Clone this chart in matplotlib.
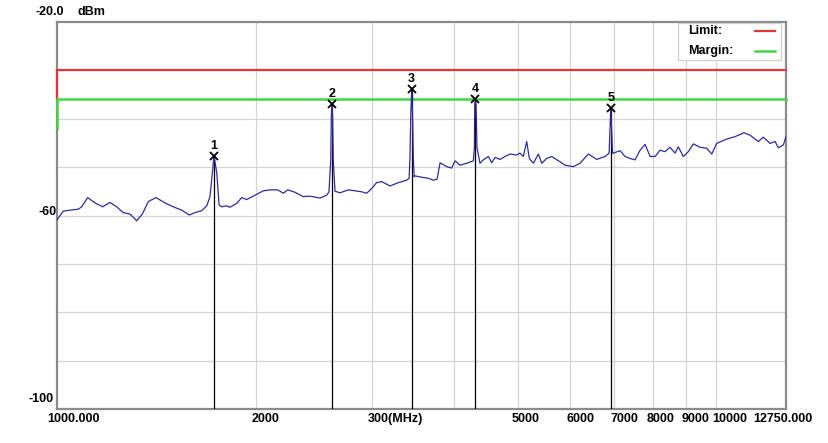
import matplotlib
matplotlib.use("Agg")
import matplotlib.pyplot as plt
from matplotlib.patches import Rectangle

# ---------------- data ----------------
freq_mhz = [1000, 1022, 1046, 1077, 1090, 1113, 1142, 1173, 1203, 1232, 1260, 1290,
            1321, 1347, 1376, 1413, 1458, 1501, 1546, 1587, 1619, 1658, 1687, 1706,
            1720, 1730, 1747, 1761, 1777, 1808, 1829, 1873, 1906, 1940, 1997, 2055,
            2104, 2161, 2204, 2238, 2296, 2363, 2419, 2505, 2564, 2585, 2601, 2606,
            2612, 2618, 2624, 2640, 2687, 2766, 2831, 2898, 2949, 3001, 3053, 3108,
            3199, 3293, 3391, 3420, 3430, 3440, 3451, 3460, 3470, 3480, 3491, 3573,
            3657, 3722, 3770, 3810, 3900, 3968, 4014, 4085, 4181, 4279, 4295, 4300,
            4309, 4320, 4334, 4380, 4431, 4510, 4563, 4616, 4698, 4781, 4864, 4978,
            5036, 5095, 5156, 5203, 5277, 5370, 5434, 5529, 5626, 5792, 5894, 6067,
            6211, 6394, 6585, 6780, 6875, 6900, 6915, 6930, 6958, 6979, 7143, 7268,
            7396, 7527, 7660, 7795, 7933, 8073, 8215, 8357, 8504, 8654, 8754, 8909,
            9066, 9226, 9444, 9667, 9838, 10011, 10366, 10671, 11011, 11246, 11575,
            11780, 12059, 12272, 12414, 12633, 12750]
level_dbm = [-60.9, -59.1, -58.9, -58.7, -58.2, -56.3, -57.4, -58.2, -57.3, -58.2, -59.4, -59.7,
             -61.1, -59.7, -57.1, -56.3, -57.4, -58.2, -58.9, -59.9, -59.4, -59.0, -58.0, -56.1,
             -51.3, -47.6, -51.2, -57.8, -58.2, -58.0, -58.3, -57.5, -56.3, -56.7, -55.8, -54.9,
             -54.7, -54.7, -55.4, -54.7, -55.2, -56.1, -56.0, -56.4, -55.8, -55.1, -48.5, -39.8,
             -36.9, -39.8, -48.5, -55.0, -55.3, -54.7, -54.9, -55.1, -55.4, -54.4, -53.2, -53.0,
             -53.9, -53.2, -52.7, -52.3, -48.0, -38.8, -33.9, -38.8, -48.0, -52.0, -51.8, -52.1,
             -52.3, -52.7, -52.5, -49.1, -49.9, -50.2, -48.7, -49.6, -49.2, -48.7, -46.0, -37.0,
             -36.0, -37.0, -46.0, -49.2, -48.5, -47.8, -49.1, -48.0, -48.4, -47.8, -47.3, -47.5,
             -47.1, -47.8, -44.7, -48.2, -49.2, -47.3, -49.2, -48.2, -47.8, -48.9, -49.6, -49.9,
             -49.2, -47.3, -48.4, -47.8, -47.1, -41.0, -37.8, -41.0, -47.1, -47.1, -46.6, -47.8,
             -48.2, -48.5, -46.5, -45.3, -47.8, -47.8, -46.5, -46.8, -45.9, -47.1, -45.8, -47.8,
             -46.8, -45.2, -45.9, -46.1, -47.3, -45.1, -44.2, -43.7, -42.9, -43.4, -44.7,
             -43.8, -45.1, -44.7, -46.0, -45.4, -43.7]

marker_ids = ["1", "2", "3", "4", "5"]
marker_freq = [1730, 2612, 3451, 4309, 6915]
marker_level = [-47.6, -36.9, -33.9, -36.0, -37.8]

limit_dbm = -30.0
margin_dbm = -36.0
limit_start_dbm = -36.0
margin_start_dbm = -42.0

f_start, f_stop = 1000, 12750
y_min, y_max = -100, -20

x_grid = [2000, 3000, 4000, 5000, 6000, 7000, 8000, 9000, 10000]
y_grid = [-90, -80, -70, -60, -50, -40, -30]

x_tick_vals = [1000, 2000, 3000, 5000, 6000, 7000, 8000, 9000, 10000, 12750]
x_tick_text = ["1000.000", "2000", "300(MHz)", "5000", "6000", "7000", "8000", "9000",
               "10000", "12750.000"]
x_tick_dx = [-10, -3.5, -3.5, -6, -4, -4, -5.5, -5, -4, -33]

# ---------------- figure ----------------
W, H = 829, 443
fig = plt.figure(figsize=(W / 100, H / 100), dpi=100)
fig.patch.set_facecolor("white")

def fx(px):
    return px / W

def fy(py):
    return 1 - py / H

L, R, T, B = 57, 786, 22, 409
ax = fig.add_axes([fx(L), fy(B), (R - L) / W, (B - T) / H])
ax.set_xscale("log")
ax.set_xlim(f_start, f_stop)
ax.set_ylim(y_min, y_max)
ax.minorticks_off()
ax.set_xticks(x_grid)
ax.set_yticks(y_grid)
ax.tick_params(length=0, labelbottom=False, labelleft=False)
ax.grid(True, color="#d4d4d4", linewidth=0.9)
ax.set_axisbelow(True)
for s in ax.spines.values():
    s.set_color("#8a8a8a")
    s.set_linewidth(1.6)

font = dict(family=["Liberation Sans", "DejaVu Sans"], fontweight="bold", fontsize=9, color="black")

# limit / margin lines
ax.plot([f_start, f_start, f_stop], [limit_start_dbm, limit_dbm, limit_dbm],
        color="#e03838", lw=1.6, zorder=3, clip_on=False, solid_joinstyle="miter")
ax.plot([f_start, f_start, f_stop], [margin_start_dbm, margin_dbm, margin_dbm],
        color="#44d444", lw=1.8, zorder=3, clip_on=False, solid_joinstyle="miter")

# marker vertical lines
ax.vlines(marker_freq, y_min, marker_level, color="black", lw=0.9, zorder=3.5)

# trace
ax.plot(freq_mhz, level_dbm, color="#2c2c9c", lw=0.9, zorder=4)

# markers
ax.plot(marker_freq, marker_level, linestyle="none", marker="x", color="black",
        markersize=6, mew=1.3, zorder=5)
for mid, mf, ml in zip(marker_ids, marker_freq, marker_level):
    ax.annotate(mid, xy=(mf, ml), xytext=(0, 10), textcoords="offset pixels",
                ha="center", va="center", zorder=6, **font)

# x tick labels
for v, t, dx in zip(x_tick_vals, x_tick_text, x_tick_dx):
    ax.annotate(t, xy=(v, 0), xycoords=("data", "axes fraction"), xytext=(dx, -10),
                textcoords="offset pixels", ha="left", va="center", annotation_clip=False, **font)

# y labels
ax.annotate("-60", xy=(0, -60), xycoords=("axes fraction", "data"), xytext=(0, 3.5),
            textcoords="offset pixels", ha="right", va="center", annotation_clip=False, **font)
ax.annotate("-100", xy=(0, -100), xycoords=("axes fraction", "data"), xytext=(-3, 10),
            textcoords="offset pixels", ha="right", va="center", annotation_clip=False, **font)
fig.text(fx(36), fy(12), "-20.0", ha="left", va="center", **font)
fig.text(fx(78), fy(12), "dBm", ha="left", va="center", **font)

# legend box
fig.patches.append(Rectangle((fx(678), fy(60)), (781 - 678) / W, (60 - 23) / H,
                             transform=fig.transFigure, facecolor="white",
                             edgecolor="#cfcfcf", linewidth=0.9, zorder=10))
fig.text(fx(688), fy(31.5), "Limit:", ha="left", va="center", zorder=11, **font)
fig.text(fx(688), fy(51), "Margin:", ha="left", va="center", zorder=11, **font)
fig.lines.append(plt.Line2D([fx(755), fx(775)], [fy(31), fy(31)], transform=fig.transFigure,
                            color="#e03838", lw=1.6, zorder=11))
fig.lines.append(plt.Line2D([fx(755), fx(775)], [fy(51), fy(51)], transform=fig.transFigure,
                            color="#44d444", lw=1.8, zorder=11))

fig.savefig("out.png", dpi=100, facecolor="white")
